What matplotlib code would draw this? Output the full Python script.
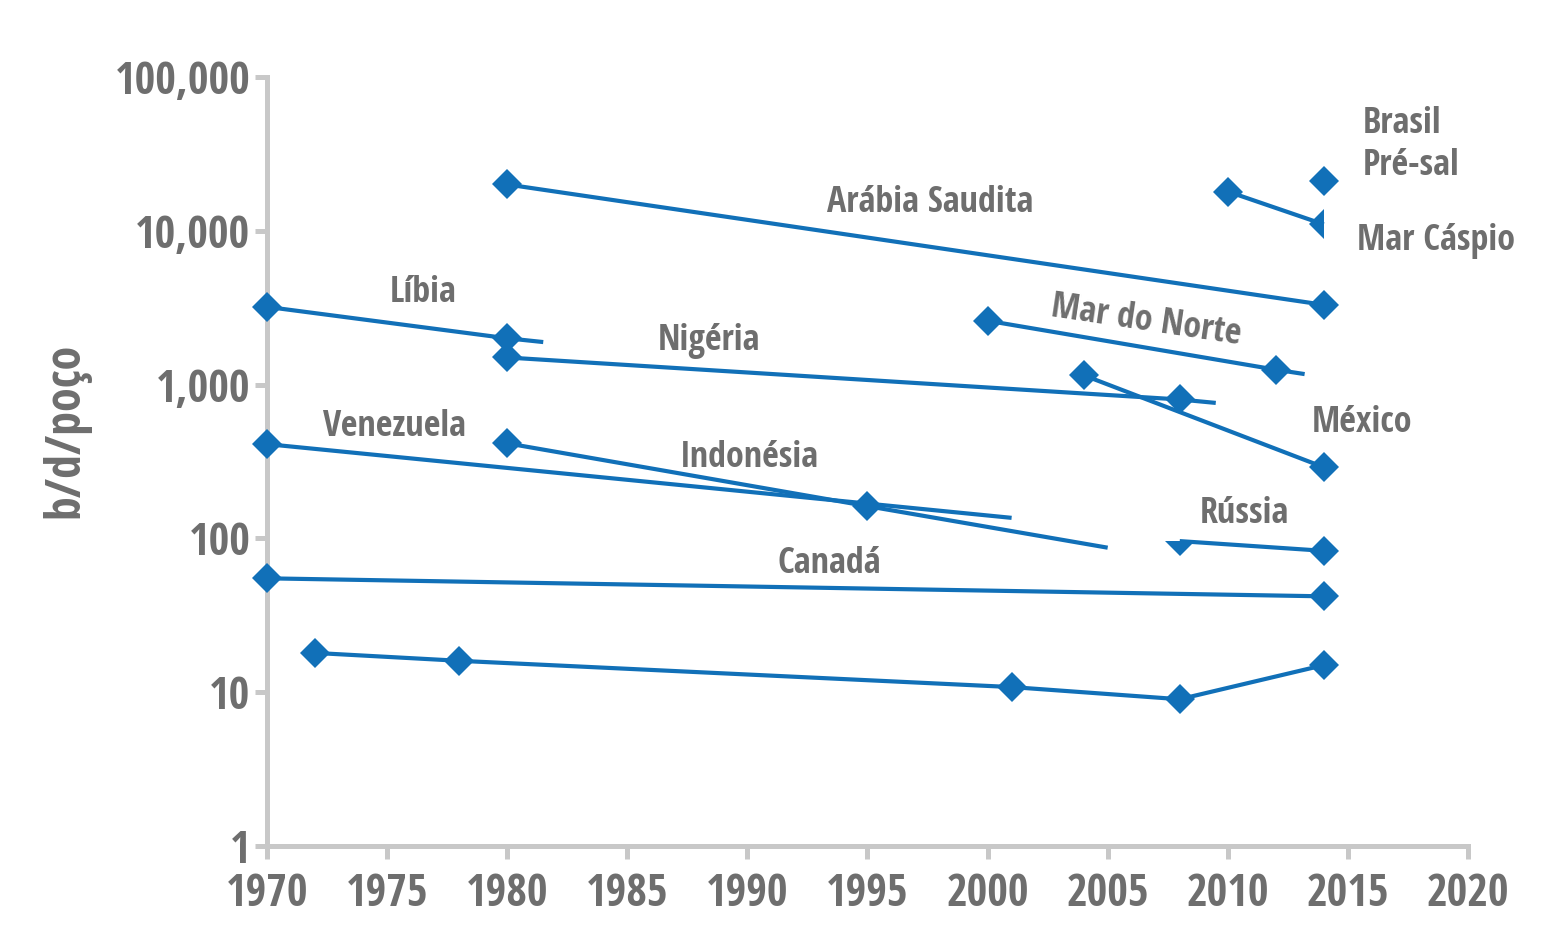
import matplotlib
matplotlib.use("Agg")
import matplotlib.pyplot as plt
import matplotlib.font_manager as fm
from matplotlib.ticker import FixedLocator, NullLocator

BLUE = '#1170b8'
GRAY_TXT = '#6e6e6e'
GRAY_AX = '#c8c8c8'

# b/d/poço por região
arabia_x = [1980, 2014]
arabia_y = [20000, 3300]
brasil_x = [2014]
brasil_y = [21000]
caspio_x = [2010, 2014]
caspio_y = [18000, 11000]
libia_x = [1970, 1980, 1981.5]
libia_y = [3200, 2000, 1890]
nigeria_x = [1980, 2008, 2009.5]
nigeria_y = [1500, 800, 760]
norte_x = [2000, 2012, 2013.2]
norte_y = [2600, 1250, 1170]
mexico_x = [2004, 2014]
mexico_y = [1150, 290]
venezuela_x = [1970, 2001]
venezuela_y = [410, 136]
indonesia_x = [1980, 1995, 2005]
indonesia_y = [415, 162, 87]
russia_x = [2008, 2014]
russia_y = [96, 83]
canada_x = [1970, 2014]
canada_y = [55, 42]
eua_x = [1972, 1978, 2001, 2008, 2014]
eua_y = [18, 16, 10.8, 9.0, 15]

x_ticks = [1970, 1975, 1980, 1985, 1990, 1995, 2000, 2005, 2010, 2015, 2020]
y_ticks = [1, 10, 100, 1000, 10000, 100000]
y_labels = ['1', '10', '100', '1,000', '10,000', '100,000']


def pick_condensed_bold():
    """look for a narrow/condensed bold face among the installed fonts"""
    best, best_score = None, -1
    for f in fm.fontManager.ttflist:
        nm = (f.name + ' ' + f.fname).lower()
        st = str(f.stretch)
        cond = ('condensed' in nm or 'narrow' in nm or
                st in ('condensed', 'semi-condensed', 'extra-condensed'))
        w = f.weight if isinstance(f.weight, int) else fm.weight_dict.get(f.weight, 400)
        if not cond or w < 600 or f.style != 'normal' or 'italic' in nm:
            continue
        score = 1
        if 'open sans' in nm or 'opensans' in nm:
            score += 20
        elif 'noto sans' in nm or 'notosans' in nm:
            score += 10
        elif 'liberation' in nm:
            score += 8
        elif 'dejavu' in nm:
            score += 5
        if 'extra' in nm or 'ultra' in nm:
            score -= 4
        if 'semi' in nm:
            score -= 2
        if 'mono' in nm or 'serif' in nm or 'display' in nm:
            score -= 3
        if w == 700:
            score += 2
        if score > best_score:
            best, best_score = f, score
    if best is None:
        return fm.FontProperties(family='DejaVu Sans', weight='bold', stretch='condensed')
    return fm.FontProperties(fname=best.fname)


FP = pick_condensed_bold()


def fp(size):
    p = FP.copy()
    p.set_size(size)
    return p


series = [
    (arabia_x, arabia_y, [0, 1]),
    (brasil_x, brasil_y, [0]),
    (caspio_x, caspio_y, [0]),
    (libia_x, libia_y, [0, 1]),
    (nigeria_x, nigeria_y, [0, 1]),
    (norte_x, norte_y, [0, 1]),
    (mexico_x, mexico_y, [0, 1]),
    (venezuela_x, venezuela_y, [0]),
    (indonesia_x, indonesia_y, [0, 1]),
    (russia_x, russia_y, [1]),
    (canada_x, canada_y, [0, 1]),
    (eua_x, eua_y, [0, 1, 2, 3, 4]),
]

fig = plt.figure(figsize=(15.68, 9.42), dpi=100)
ax = fig.add_axes([0.1703, 0.1019, 0.7659, 0.8164])

for xs, ys, marks in series:
    ax.plot(xs, ys, color=BLUE, lw=3, marker='D', ms=15, markevery=marks,
            mew=0, solid_capstyle='butt', clip_on=False, zorder=5)

# meio-marcadores (como no original)
ax.plot(caspio_x[-1:], caspio_y[-1:], ls='none', marker='D', ms=15, color=BLUE,
        fillstyle='left', markerfacecoloralt='none', mew=0, clip_on=False, zorder=5)
ax.plot(russia_x[:1], russia_y[:1], ls='none', marker='D', ms=15, color=BLUE,
        fillstyle='bottom', markerfacecoloralt='none', mew=0, clip_on=False, zorder=5)

ax.set_yscale('log')
ax.set_xlim(1970, 2020)
ax.set_ylim(1, 100000)
ax.xaxis.set_major_locator(FixedLocator(x_ticks))
ax.yaxis.set_major_locator(FixedLocator(y_ticks))
ax.yaxis.set_minor_locator(NullLocator())
ax.set_yticklabels(y_labels)

for s in ['top', 'right']:
    ax.spines[s].set_visible(False)
for s in ['left', 'bottom']:
    ax.spines[s].set_color(GRAY_AX)
    ax.spines[s].set_linewidth(3.6)
ax.tick_params(axis='both', colors=GRAY_AX, width=3.6, length=9,
               labelcolor=GRAY_TXT)
ax.tick_params(axis='x', pad=10)
ax.tick_params(axis='y', pad=3)
for t in ax.get_xticklabels() + ax.get_yticklabels():
    t.set_fontproperties(fp(32))

ax.set_ylabel('b/d/poço', fontproperties=fp(34.5), color=GRAY_TXT)
ax.yaxis.set_label_coords(-0.147, 0.54)

lab = dict(fontproperties=fp(26), color=GRAY_TXT, va='center')
ax.text(1997.6, 15160, 'Arábia Saudita', ha='center', **lab)
ax.text(2015.6, 49480, 'Brasil', ha='left', **lab)
ax.text(2015.6, 26390, 'Pré-sal', ha='left', **lab)
ax.text(2015.4, 8585, 'Mar Cáspio', ha='left', **lab)
ax.text(1976.5, 3940, 'Líbia', ha='center', **lab)
ax.text(1988.4, 1921, 'Nigéria', ha='center', **lab)
ax.text(2006.6, 2591, 'Mar do Norte', ha='center',
        rotation=-8.5, rotation_mode='anchor', **lab)
ax.text(2015.6, 563, 'México', ha='center', **lab)
ax.text(1975.3, 530, 'Venezuela', ha='center', **lab)
ax.text(1990.1, 333, 'Indonésia', ha='center', **lab)
ax.text(2010.7, 144, 'Rússia', ha='center', **lab)
ax.text(1993.4, 68.2, 'Canadá', ha='center', **lab)

fig.savefig('out.png', dpi=100)
